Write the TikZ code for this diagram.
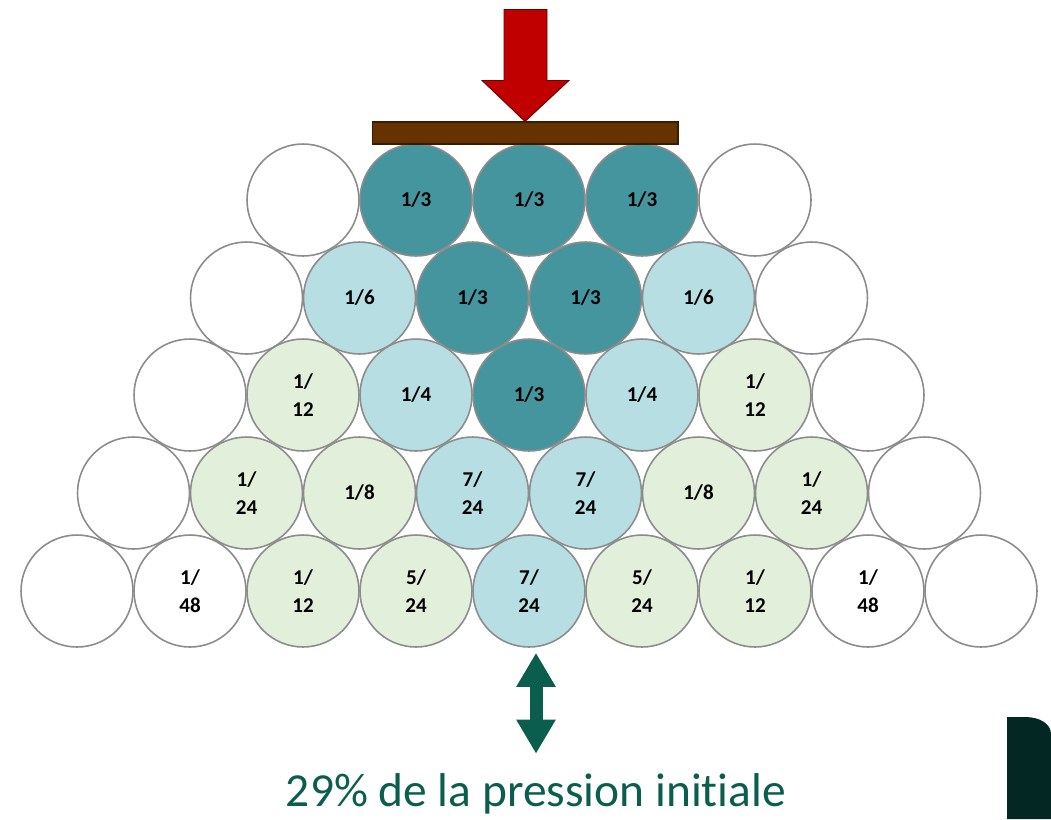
\documentclass[tikz,border=0pt]{standalone}
\usepackage{fontspec}
\setmainfont{Carlito}[Ligatures=NoCommon]
\usetikzlibrary{arrows.meta}
\definecolor{darkteal}{RGB}{69,149,158}
\definecolor{lightteal}{RGB}{183,222,226}
\definecolor{lightgreen}{RGB}{226,239,218}
\definecolor{ringgray}{RGB}{140,140,140}
\definecolor{barbrown}{RGB}{102,51,0}
\definecolor{pushred}{RGB}{192,0,0}
\definecolor{pinegreen}{RGB}{11,94,78}
\definecolor{cornerdark}{RGB}{3,40,35}

\begin{document}
\begin{tikzpicture}[x=0.02cm, y=-0.02cm,
            ball/.style={circle, draw=ringgray, line width=0.9pt, minimum size=2.24cm, inner sep=0pt, align=center, font=\bfseries\fontsize{12}{16}\selectfont},
            free ball/.style={ball, fill=white},
            top ball/.style={ball, fill=darkteal},
            mid ball/.style={ball, fill=lightteal},
            low ball/.style={ball, fill=lightgreen},
            plank/.style={rectangle, draw=black!45!barbrown, line width=0.6pt, fill=barbrown, minimum width=6.12cm, minimum height=0.44cm},
            push arrow/.style={draw=black!45!pushred, line width=0.5pt, fill=pushred},
            gauge arrow/.style={pinegreen, line width=0.26cm, {Triangle[width=0.74cm,length=0.68cm]}-{Triangle[width=0.74cm,length=0.68cm]}},
            caption/.style={text=pinegreen, inner sep=0pt, font=\fontsize{27}{32}\selectfont}
    ]
        \useasboundingbox (0,0) rectangle (1051,819);

        % Top row
        \node[free ball] (row1_1) at (303,200) {};
        \node[top ball] (row1_2) at (416,200) {1/3};
        \node[top ball] (row1_3) at (529,200) {1/3};
        \node[top ball] (row1_4) at (642,200) {1/3};
        \node[free ball] (row1_5) at (755,200) {};

        % Second row
        \node[free ball] (row2_1) at (246.5,298) {};
        \node[mid ball] (row2_2) at (359.5,298) {1/6};
        \node[top ball] (row2_3) at (472.5,298) {1/3};
        \node[top ball] (row2_4) at (585.5,298) {1/3};
        \node[mid ball] (row2_5) at (698.5,298) {1/6};
        \node[free ball] (row2_6) at (811.5,298) {};

        % Third row
        \node[free ball] (row3_1) at (190,395) {};
        \node[low ball] (row3_2) at (303,395) {1/\\12};
        \node[mid ball] (row3_3) at (416,395) {1/4};
        \node[top ball] (row3_4) at (529,395) {1/3};
        \node[mid ball] (row3_5) at (642,395) {1/4};
        \node[low ball] (row3_6) at (755,395) {1/\\12};
        \node[free ball] (row3_7) at (868,395) {};

        % Fourth row
        \node[free ball] (row4_1) at (133.5,493) {};
        \node[low ball] (row4_2) at (246.5,493) {1/\\24};
        \node[low ball] (row4_3) at (359.5,493) {1/8};
        \node[mid ball] (row4_4) at (472.5,493) {7/\\24};
        \node[mid ball] (row4_5) at (585.5,493) {7/\\24};
        \node[low ball] (row4_6) at (698.5,493) {1/8};
        \node[low ball] (row4_7) at (811.5,493) {1/\\24};
        \node[free ball] (row4_8) at (924.5,493) {};

        % Bottom row
        \node[free ball] (row5_1) at (77,591) {};
        \node[free ball] (row5_2) at (190,591) {1/\\48};
        \node[low ball] (row5_3) at (303,591) {1/\\12};
        \node[low ball] (row5_4) at (416,591) {5/\\24};
        \node[mid ball] (row5_5) at (529,591) {7/\\24};
        \node[low ball] (row5_6) at (642,591) {5/\\24};
        \node[low ball] (row5_7) at (755,591) {1/\\12};
        \node[free ball] (row5_8) at (868,591) {1/\\48};
        \node[free ball] (row5_9) at (981,591) {};

        % Load
        \node[plank] (bar) at (525,133) {};
        \draw[push arrow] (bar.north) -- ++(44,-41) -- ++(-22,0) -- ++(0,-71) -- ++(-43,0) -- ++(0,71) -- ++(-22,0) -- cycle;

        % Result
        \node[caption, anchor=base] (caption) at (536,806) {29\% de la pression initiale};
        \draw[gauge arrow, shorten <=0.38cm, shorten >=0.1cm] (caption.north) -- (caption.north |- row5_5.south);

        % Corner
        \fill[cornerdark] (1007,819) -- (1007,717) -- (1025,717) .. controls (1040,717) and (1051,724) .. (1051,734) -- (1051,819) -- cycle;

    \end{tikzpicture}
\end{document}
